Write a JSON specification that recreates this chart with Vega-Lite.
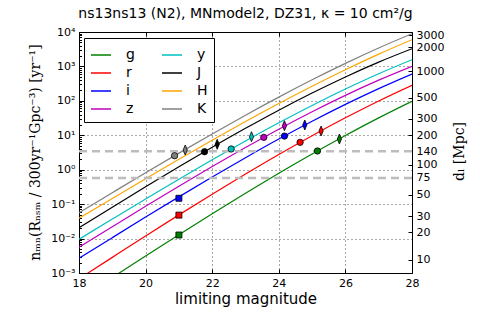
{
 "$schema": "https://vega.github.io/schema/vega-lite/v6.json",
 "width": 333, "height": 241,
 "autosize": {"type": "none"},
 "padding": {"left": 79, "top": 32, "right": 68, "bottom": 47},
 "title": {"text": "ns13ns13 (N2), MNmodel2, DZ31, κ = 10 cm²/g", "fontSize": 14, "font": "DejaVu Sans", "fontWeight": "normal", "offset": 5, "color": "black"},
 "config": {
  "view": {"stroke": "black", "strokeWidth": 1},
  "axis": {"domain": false, "labelFont": "DejaVu Sans", "labelFontSize": 11, "labelColor": "black", "tickColor": "black", "tickWidth": 1, "titleColor": "black", "titleFontWeight": "normal"}
 },
 "datasets": {
  "lines": [
   {"band":"K","mag":18,"n":0.0565},{"band":"K","mag":19,"n":0.2153},{"band":"K","mag":20,"n":0.815},{"band":"K","mag":21,"n":3.03},{"band":"K","mag":22,"n":10.96},{"band":"K","mag":23,"n":38.4},{"band":"K","mag":24,"n":128.5},{"band":"K","mag":25,"n":409},{"band":"K","mag":26,"n":1227},{"band":"K","mag":27,"n":3436},{"band":"K","mag":28,"n":8913},
   {"band":"H","mag":18,"n":0.0388},{"band":"H","mag":19,"n":0.1462},{"band":"H","mag":20,"n":0.546},{"band":"H","mag":21,"n":2.009},{"band":"H","mag":22,"n":7.21},{"band":"H","mag":23,"n":25.06},{"band":"H","mag":24,"n":83.8},{"band":"H","mag":25,"n":266.7},{"band":"H","mag":26,"n":803.5},{"band":"H","mag":27,"n":2270},{"band":"H","mag":28,"n":5970},
   {"band":"J","mag":18,"n":0.0207},{"band":"J","mag":19,"n":0.0816},{"band":"J","mag":20,"n":0.3177},{"band":"J","mag":21,"n":1.214},{"band":"J","mag":22,"n":4.49},{"band":"J","mag":23,"n":15.92},{"band":"J","mag":24,"n":53.6},{"band":"J","mag":25,"n":169.0},{"band":"J","mag":26,"n":495.5},{"band":"J","mag":27,"n":1336},{"band":"J","mag":28,"n":3273},
   {"band":"y","mag":18,"n":0.00953},{"band":"y","mag":19,"n":0.0368},{"band":"y","mag":20,"n":0.141},{"band":"y","mag":21,"n":0.530},{"band":"y","mag":22,"n":1.941},{"band":"y","mag":23,"n":6.84},{"band":"y","mag":24,"n":23.06},{"band":"y","mag":25,"n":73.6},{"band":"y","mag":26,"n":219.8},{"band":"y","mag":27,"n":612},{"band":"y","mag":28,"n":1567},
   {"band":"z","mag":18,"n":0.00557},{"band":"z","mag":19,"n":0.0220},{"band":"z","mag":20,"n":0.0863},{"band":"z","mag":21,"n":0.3311},{"band":"z","mag":22,"n":1.234},{"band":"z","mag":23,"n":4.42},{"band":"z","mag":24,"n":15.06},{"band":"z","mag":25,"n":48.3},{"band":"z","mag":26,"n":144.5},{"band":"z","mag":27,"n":399},{"band":"z","mag":28,"n":1009},
   {"band":"i","mag":18,"n":0.00267},{"band":"i","mag":19,"n":0.01064},{"band":"i","mag":20,"n":0.0420},{"band":"i","mag":21,"n":0.1626},{"band":"i","mag":22,"n":0.612},{"band":"i","mag":23,"n":2.228},{"band":"i","mag":24,"n":7.75},{"band":"i","mag":25,"n":25.5},{"band":"i","mag":26,"n":78.9},{"band":"i","mag":27,"n":227},{"band":"i","mag":28,"n":602.6},
   {"band":"r","mag":18,"n":0.000676},{"band":"r","mag":19,"n":0.002844},{"band":"r","mag":20,"n":0.01189},{"band":"r","mag":21,"n":0.0488},{"band":"r","mag":22,"n":0.1946},{"band":"r","mag":23,"n":0.7516},{"band":"r","mag":24,"n":2.780},{"band":"r","mag":25,"n":9.75},{"band":"r","mag":26,"n":32.2},{"band":"r","mag":27,"n":99.3},{"band":"r","mag":28,"n":283.1},
   {"band":"g","mag":18,"n":0.000174},{"band":"g","mag":19,"n":0.00074},{"band":"g","mag":20,"n":0.00312},{"band":"g","mag":21,"n":0.01297},{"band":"g","mag":22,"n":0.0527},{"band":"g","mag":23,"n":0.2075},{"band":"g","mag":24,"n":0.789},{"band":"g","mag":25,"n":2.864},{"band":"g","mag":26,"n":9.86},{"band":"g","mag":27,"n":32.06},{"band":"g","mag":28,"n":97.3}
  ],
  "markers": [
   {"band":"K","kind":"circle","mag":20.87,"n":2.55},
   {"band":"J","kind":"circle","mag":21.77,"n":3.33},
   {"band":"y","kind":"circle","mag":22.57,"n":4.0},
   {"band":"z","kind":"circle","mag":23.55,"n":8.7},
   {"band":"i","kind":"circle","mag":24.17,"n":9.5},
   {"band":"r","kind":"circle","mag":24.64,"n":6.25},
   {"band":"g","kind":"circle","mag":25.16,"n":3.5},
   {"band":"K","kind":"diamond","mag":21.19,"n":3.74},
   {"band":"J","kind":"diamond","mag":22.15,"n":5.47},
   {"band":"y","kind":"diamond","mag":23.18,"n":9.1},
   {"band":"z","kind":"diamond","mag":24.17,"n":19},
   {"band":"i","kind":"diamond","mag":24.78,"n":19.9},
   {"band":"r","kind":"diamond","mag":25.27,"n":13.3},
   {"band":"g","kind":"diamond","mag":25.82,"n":7.8},
   {"band":"i","kind":"square","mag":21,"n":0.148},
   {"band":"r","kind":"square","mag":21,"n":0.048},
   {"band":"g","kind":"square","mag":21,"n":0.0127}
  ],
  "dashed": [{"d": 140, "n": 3.43}, {"d": 75, "n": 0.575}]
 },
 "layer": [
  {
   "data": {"name": "lines"},
   "mark": {"type": "line", "strokeWidth": 1.2, "clip": true, "interpolate": "monotone"},
   "encoding": {
    "x": {"field": "mag", "type": "quantitative", "scale": {"domain": [18, 28], "nice": false},
     "axis": {"orient": "bottom", "values": [18,20,22,24,26,28], "tickSize": -4, "labelPadding": 8, "labelFlush": false, "labelFontSize": 11,
      "grid": true, "gridColor": "black", "gridDash": [1,3], "gridWidth": 0.8, "gridOpacity": 0.85,
      "title": "limiting magnitude", "titleFont": "DejaVu Sans", "titleFontSize": 15, "titlePadding": 3}},
    "y": {"field": "n", "type": "quantitative", "scale": {"type": "log", "domain": [0.001, 10000], "nice": false},
     "axis": {"orient": "left",
      "values": [0.001,0.002,0.003,0.004,0.005,0.006,0.007,0.008,0.009,0.01,0.02,0.03,0.04,0.05,0.06,0.07,0.08,0.09,0.1,0.2,0.3,0.4,0.5,0.6,0.7,0.8,0.9,1,2,3,4,5,6,7,8,9,10,20,30,40,50,60,70,80,90,100,200,300,400,500,600,700,800,900,1000,2000,3000,4000,5000,6000,7000,8000,9000,10000],
      "labelOverlap": false,
      "labelExpr": "abs(log(datum.value)/LN10 - round(log(datum.value)/LN10)) > 0.001 ? '' : datum.value < 0.002 ? '10⁻³' : datum.value < 0.02 ? '10⁻²' : datum.value < 0.2 ? '10⁻¹' : datum.value < 2 ? '10⁰' : datum.value < 20 ? '10¹' : datum.value < 200 ? '10²' : datum.value < 2000 ? '10³' : '10⁴'",
      "tickSize": {"condition": {"test": "abs(log(datum.value)/LN10 - round(log(datum.value)/LN10)) < 0.001", "value": -5}, "value": -2.5},
      "labelPadding": 9,
      "grid": true, "gridColor": "black", "gridDash": [1,3], "gridWidth": 0.8,
      "gridOpacity": {"condition": {"test": "abs(log(datum.value)/LN10 - round(log(datum.value)/LN10)) < 0.001", "value": 0.85}, "value": 0},
      "title": "nₘₙ(Rₙₛₘ / 300yr⁻¹Gpc⁻³) [yr⁻¹]", "titleFont": "DejaVu Serif", "titleFontSize": 14,
      "titleAngle": -90, "titleX": -44, "titleY": 120, "titleAlign": "center", "titleBaseline": "middle"}},
    "color": {"field": "band", "type": "nominal",
     "scale": {"domain": ["g","r","i","z","y","J","H","K"], "range": ["#008000","#ff0000","#0000ff","#bf00bf","#00bfbf","#000000","#ffa500","#808080"]},
     "legend": {"orient": "none", "legendX": 5, "legendY": 6, "columns": 2, "title": null, "symbolType": "stroke", "symbolSize": 400, "symbolStrokeWidth": 1.5,
      "labelFontSize": 14, "labelFont": "DejaVu Sans", "labelColor": "black", "labelOffset": 14, "columnPadding": 24, "rowPadding": 0, "padding": 6,
      "strokeColor": "black", "fillColor": "white", "cornerRadius": 0}}
   }
  },
  {
   "data": {"name": "dashed"},
   "mark": {"type": "rule", "color": "#bdbdbd", "strokeWidth": 2.5, "strokeDash": [8, 5]},
   "encoding": {
    "y": {"field": "n", "type": "quantitative", "scale": {"type": "log", "domain": [0.001, 10000], "nice": false},
     "axis": {"orient": "right",
      "values": [0.00244, 0.0155, 0.0444, 0.188, 0.575, 1.40, 3.43, 9.98, 30.3, 121.2, 723, 3597, 8020],
      "labelOverlap": false,
      "labelExpr": "datum.value < 0.005 ? '10' : datum.value < 0.03 ? '20' : datum.value < 0.1 ? '30' : datum.value < 0.3 ? '50' : datum.value < 1 ? '75' : datum.value < 2 ? '100' : datum.value < 5 ? '140' : datum.value < 20 ? '200' : datum.value < 60 ? '300' : datum.value < 300 ? '500' : datum.value < 2000 ? '1000' : datum.value < 5000 ? '2000' : '3000'",
      "tickSize": -4, "labelPadding": 8, "grid": false,
      "title": "dₗ [Mpc]", "titleFont": "DejaVu Serif", "titleFontSize": 14,
      "titleAngle": -90, "titleX": 47, "titleY": 119, "titleAlign": "center", "titleBaseline": "middle"}}
   }
  },
  {
   "data": {"name": "markers"},
   "mark": {"type": "point", "filled": true, "opacity": 1, "stroke": "black", "strokeWidth": 0.8},
   "encoding": {
    "x": {"field": "mag", "type": "quantitative", "scale": {"domain": [18, 28], "nice": false},
     "axis": {"orient": "top", "values": [20,22,24,26], "labels": false, "tickSize": -4, "grid": false, "title": null}},
    "y": {"field": "n", "type": "quantitative", "scale": {"type": "log", "domain": [0.001, 10000], "nice": false}, "axis": null},
    "fill": {"field": "band", "type": "nominal", "legend": null,
     "scale": {"domain": ["g","r","i","z","y","J","H","K"], "range": ["#008000","#ff0000","#0000ff","#bf00bf","#00bfbf","#000000","#ffa500","#808080"]}},
    "shape": {"field": "kind", "type": "nominal", "legend": null,
     "scale": {"domain": ["circle","diamond","square"], "range": ["circle", "M0,-1L0.42,0L0,1L-0.42,0Z", "square"]}},
    "size": {"field": "kind", "type": "nominal", "legend": null,
     "scale": {"type": "ordinal", "domain": ["circle","diamond","square"], "range": [40, 100, 36]}}
   }
  }
 ],
 "resolve": {"axis": {"x": "independent", "y": "independent"}}
}
